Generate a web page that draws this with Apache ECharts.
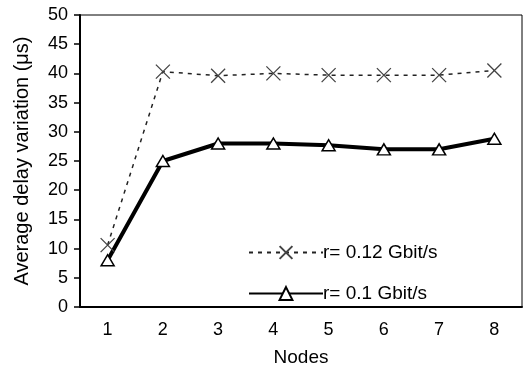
<!DOCTYPE html>
<html>
<head>
<meta charset="utf-8">
<script src="https://cdn.jsdelivr.net/npm/echarts@6/dist/echarts.min.js"></script>
<style>
  html, body { margin: 0; padding: 0; background: #fff; }
  #chart { width: 524px; height: 372px; }
</style>
</head>
<body>
<div id="chart"></div>
<script>
const nodes = ["1", "2", "3", "4", "5", "6", "7", "8"];
const rate012 = [10.6, 40.3, 39.6, 40.0, 39.7, 39.7, 39.7, 40.5];
const rate01 = [8.0, 25.0, 28.0, 28.0, 27.7, 27.0, 27.0, 28.8];
const seriesNames = ["r= 0.12 Gbit/s", "r= 0.1 Gbit/s"];

const font = "Liberation Sans, Arial, sans-serif";
const chart = echarts.init(document.getElementById("chart"));

chart.setOption({
  animation: false,
  grid: {
    left: 80, right: 2, top: 15, bottom: 61,
    show: true, borderColor: "#000", borderWidth: 1
  },
  legend: {
    orient: "vertical",
    left: 243,
    top: 238,
    itemWidth: 74,
    itemHeight: 16,
    itemGap: 22,
    textStyle: { fontFamily: font, fontSize: 19, color: "#000", padding: [0, 0, 0, -5] },
    data: seriesNames
  },
  xAxis: {
    type: "category",
    data: nodes,
    name: "Nodes",
    nameLocation: "middle",
    nameGap: 41,
    nameTextStyle: { fontFamily: font, fontSize: 19, color: "#000" },
    axisLine: { lineStyle: { color: "#000", width: 2 } },
    axisTick: { length: 5, lineStyle: { color: "#000", width: 1.5 } },
    axisLabel: { fontFamily: font, fontSize: 18, color: "#000", margin: 14 }
  },
  yAxis: {
    type: "value",
    min: 0, max: 50, interval: 5,
    name: "Average delay variation (\u03bcs)",
    nameLocation: "middle",
    nameGap: 48,
    nameTextStyle: { fontFamily: font, fontSize: 20, color: "#000" },
    axisLine: { show: true, lineStyle: { color: "#000", width: 2 } },
    axisTick: { show: true, length: 6, lineStyle: { color: "#000", width: 1.5 } },
    axisLabel: { fontFamily: font, fontSize: 18, color: "#000", margin: 12 },
    splitLine: { show: false }
  },
  series: [
    {
      name: seriesNames[0],
      type: "line",
      data: rate012,
      symbol: "path://M0,0L10,10M10,0L0,10",
      symbolSize: 14,
      lineStyle: { color: "#222", width: 1.5, type: [4, 5] },
      itemStyle: { color: "#444", borderColor: "#444", borderWidth: 1.3 }
    },
    {
      name: seriesNames[1],
      type: "line",
      data: rate01,
      symbol: "triangle",
      symbolSize: [13, 11],
      lineStyle: { color: "#000", width: 4 },
      itemStyle: { color: "#fff", borderColor: "#000", borderWidth: 1.5 }
    }
  ]
});
</script>
</body>
</html>
